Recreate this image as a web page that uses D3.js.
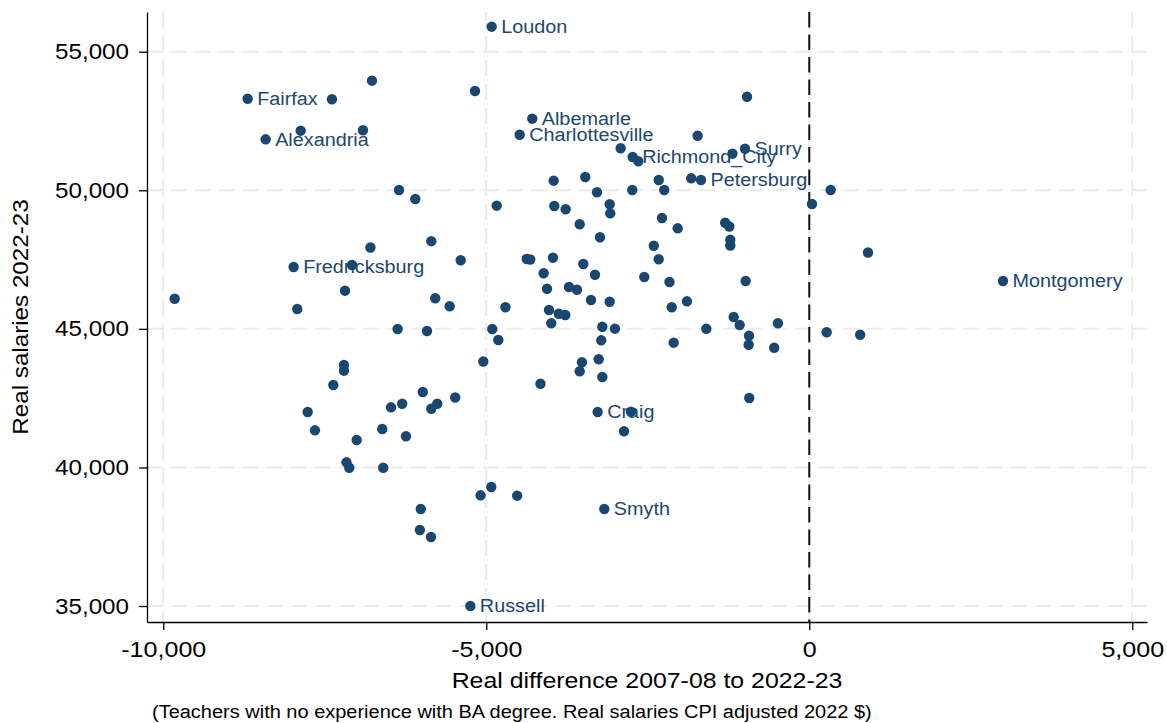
<!DOCTYPE html>
<html>
<head>
<meta charset="utf-8">
<script src="https://cdn.jsdelivr.net/npm/d3@7"></script>
<style>
  body { margin: 0; background: #fff; }
  svg text { font-family: "Liberation Sans", Arial, sans-serif; }
</style>
</head>
<body>
<svg width="1167" height="723"></svg>
<script>

// labelled districts
var labeledNames = ['Loudon', 'Fairfax', 'Alexandria', 'Albemarle', 'Charlottesville', 'Richmond_City',
	'Surry', 'Petersburg', 'Fredricksburg', 'Montgomery', 'Craig', 'Smyth', 'Russell'];
var labeledDiff = [-4916, -8694, -8415, -4288, -4483, -2734, -995, -1676, -7982, 2999, -3276, -3173, -5246];
var labeledSalary = [55902, 53304, 51839, 52583, 52005, 51201, 51500, 50371, 47232, 46727, 42000, 38501, 35000];

// the other districts (no label)
var otherDiff = [
	-7389, -6769, -7873, -6909, -6351, -6793, -5175, -964, -1728, -2920,
	-2647, -1189, -1827, -2330, -2245, -2740, -3468, -3957, -3286, -3090,
	-3081, -3947, -3771, -3554, -3240, -2280, -2037, -1302, -1238, -1223,
	-1223, -2407, -4839, -5851, -6099, 42, 331, -2331, 909, -2164,
	-985, -1893, -2129, -1170, -1077, -485, -1594, -933, -938, 269,
	788, -2099, -543, -9824, -7079, -5396, -4373, -4320, -7187, -7926,
	-5790, -5567, -4703, -6372, -5918, -4907, -4814, -5046, -7203, -7203,
	-7368, -7765, -7652, -7006, -6610, -6243, -5983, -6302, -6475, -5851,
	-5759, -5481, -7164, -7121, -6596, -3968, -3498, -4112, -3317, -2554,
	-4060, -3720, -3596, -3379, -3090, -4029, -3879, -3777, -3994, -3204,
	-3008, -3220, -3260, -3519, -3554, -3204, -4161, -2760, -2868, -929,
	-4923, -5088, -4522, -6014, -6028, -5856
];
var otherSalary = [
	53283, 53954, 52150, 52164, 50010, 47936, 53582, 53376, 51969, 51515,
	51046, 51320, 50432, 50371, 50010, 50010, 50479, 50346, 49927, 49494,
	49169, 49433, 49314, 48773, 48304, 48999, 48628, 48830, 48693, 48213,
	48008, 48000, 49444, 48163, 49685, 49505, 50010, 47510, 47755, 46691,
	46727, 45994, 45778, 45428, 45139, 45204, 45002, 44753, 44425, 44876,
	44786, 44501, 44317, 46088, 47304, 47474, 47521, 47503, 46377, 45717,
	46103, 45814, 45778, 44995, 44923, 44995, 44598, 43822, 43696, 43491,
	42974, 42000, 41340, 40990, 41387, 41127, 42722, 42300, 42170, 42119,
	42300, 42524, 40185, 39991, 39991, 47568, 47340, 47005, 46954, 46871,
	46449, 46510, 46413, 46041, 45980, 45681, 45547, 45500, 45201, 45078,
	45006, 44587, 43902, 43794, 43469, 43263, 43021, 42011, 41304, 42506,
	39294, 38995, 38981, 38501, 37743, 37490
];

var xTicks = [-10000, -5000, 0, 5000];
var yTicks = [35000, 40000, 45000, 50000, 55000];

var xTitle = 'Real difference 2007-08 to 2022-23';
var yTitle = 'Real salaries 2022-23';
var note = '(Teachers with no experience with BA degree. Real salaries CPI adjusted 2022 $)';

var navy = '#1a476f';
var plotLeft = 147, plotRight = 1147, plotTop = 12, plotBottom = 622;

var svg = d3.select('svg');

var xScale = d3.scaleLinear()
	.domain([-10252, 5228])
	.range([plotLeft, plotRight]);

var yScale = d3.scaleLinear()
	.domain([34424, 56432])
	.range([plotBottom, plotTop]);

// stata draws its text a bit wider than arial
function stretch(sel, k) {
	sel.each(function() {
		var len = this.getComputedTextLength();
		d3.select(this)
			.attr('textLength', len * k)
			.attr('lengthAdjust', 'spacingAndGlyphs');
	});
}

var fmt = d => d3.format(',')(d).replace('\u2212', '-');

// grid
svg.append('g')
	.selectAll('line')
	.data(yTicks)
	.enter()
	.append('line')
		.attr('x1', plotLeft)
		.attr('x2', plotRight)
		.attr('y1', d => yScale(d))
		.attr('y2', d => yScale(d))
		.attr('stroke', '#ebebeb')
		.attr('stroke-width', 2)
		.attr('stroke-dasharray', '16,8');

svg.append('g')
	.selectAll('line')
	.data(xTicks)
	.enter()
	.append('line')
		.attr('x1', d => xScale(d))
		.attr('x2', d => xScale(d))
		.attr('y1', plotTop)
		.attr('y2', plotBottom)
		.attr('stroke', '#ebebeb')
		.attr('stroke-width', 2)
		.attr('stroke-dasharray', '16,8');

// zero line
svg.append('line')
	.attr('x1', xScale(0))
	.attr('x2', xScale(0))
	.attr('y1', plotTop)
	.attr('y2', plotBottom)
	.attr('stroke', '#111')
	.attr('stroke-width', 2)
	.attr('stroke-dasharray', '15.5,7');

// axes
var yAxis = d3.axisLeft(yScale)
	.tickValues(yTicks)
	.tickSize(8)
	.tickSizeOuter(0)
	.tickPadding(10)
	.tickFormat(fmt);

var xAxis = d3.axisBottom(xScale)
	.tickValues(xTicks)
	.tickSize(8)
	.tickSizeOuter(0)
	.tickPadding(11.5)
	.tickFormat(fmt);

var gy = svg.append('g')
	.attr('transform', `translate(${plotLeft}, 0)`)
	.call(yAxis);

var gx = svg.append('g')
	.attr('transform', `translate(0, ${plotBottom})`)
	.call(xAxis);

[gx, gy].forEach(g => {
	g.selectAll('path, line')
		.attr('stroke', '#000')
		.attr('stroke-width', 1.3);
	g.selectAll('text')
		.attr('fill', '#000')
		.style('font-size', '22px')
		.call(stretch, g === gx ? 1.14 : 1.1);
});

// titles
svg.append('text')
	.attr('x', (plotLeft + plotRight) / 2)
	.attr('y', 688)
	.style('text-anchor', 'middle')
	.style('font-size', '22px')
	.text(xTitle)
	.call(stretch, 1.13);

svg.append('text')
	.attr('transform', `translate(27.5, ${(plotTop + plotBottom) / 2}) rotate(-90)`)
	.style('text-anchor', 'middle')
	.style('font-size', '22px')
	.text(yTitle)
	.call(stretch, 1.1);

svg.append('text')
	.attr('x', 152)
	.attr('y', 718)
	.style('font-size', '18px')
	.text(note)
	.call(stretch, 1.11);

// marker labels first, dots on top
svg.append('g')
	.selectAll('text')
	.data(labeledNames)
	.enter()
	.append('text')
		.attr('x', (d, i) => xScale(labeledDiff[i]) + 9.5)
		.attr('y', (d, i) => yScale(labeledSalary[i]))
		.attr('dy', '0.35em')
		.attr('fill', navy)
		.style('font-size', '18px')
		.text(d => d)
		.call(stretch, 1.1);

svg.append('g')
	.selectAll('circle')
	.data(otherDiff)
	.enter()
	.append('circle')
		.attr('cx', d => xScale(d))
		.attr('cy', (d, i) => yScale(otherSalary[i]))
		.attr('r', 5.2)
		.attr('fill', navy);

svg.append('g')
	.selectAll('circle')
	.data(labeledDiff)
	.enter()
	.append('circle')
		.attr('cx', d => xScale(d))
		.attr('cy', (d, i) => yScale(labeledSalary[i]))
		.attr('r', 5.2)
		.attr('fill', navy);

</script>
</body>
</html>
